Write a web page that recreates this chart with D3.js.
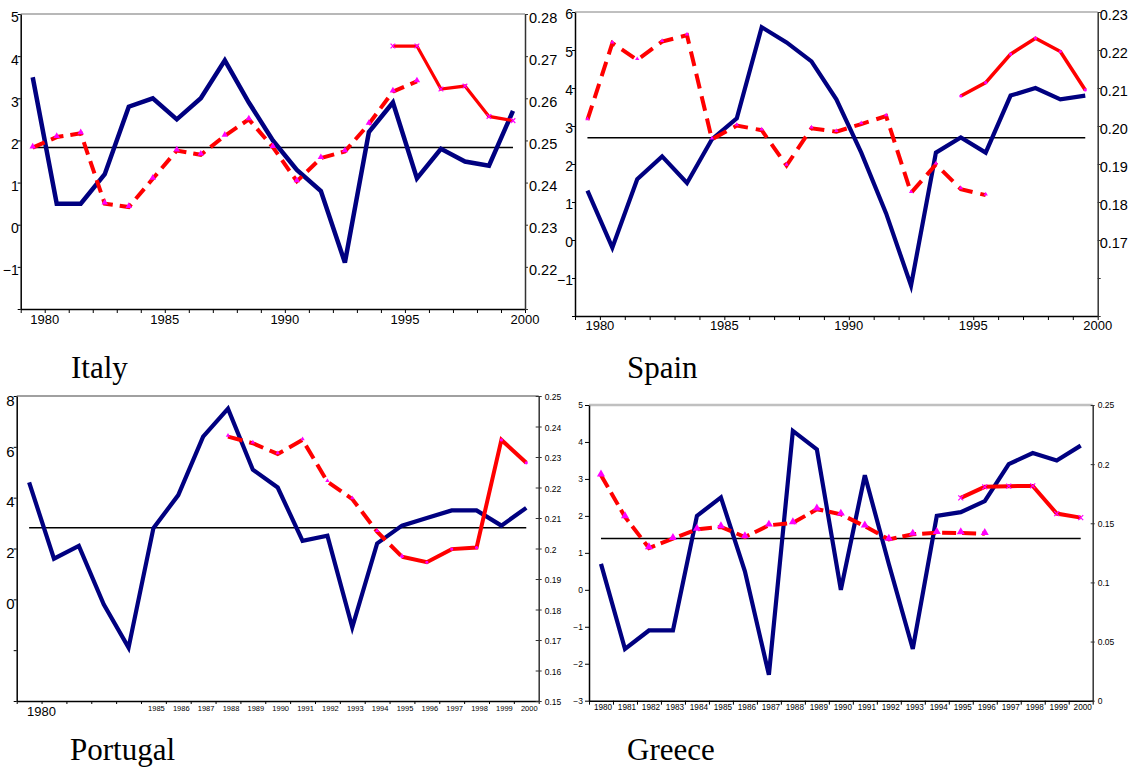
<!DOCTYPE html>
<html>
<head>
<meta charset="utf-8">
<style>
body { margin: 0; background: #fff; }
svg { display: block; }
.title { font-family: "Liberation Serif", "Times New Roman", serif; font-size: 31px; fill: #000; }
</style>
</head>
<body>
<svg width="1134" height="769"></svg>
<script src="https://cdn.jsdelivr.net/npm/d3@7"></script>
<script>
// categories
var years = [1980, 1981, 1982, 1983, 1984, 1985, 1986, 1987, 1988, 1989, 1990,
             1991, 1992, 1993, 1994, 1995, 1996, 1997, 1998, 1999, 2000];

// Italy
var italyGrowth   = [3.5, 0.5, 0.5, 1.2, 2.8, 3.0, 2.5, 3.0, 3.9, 2.9, 2.0, 1.3, 0.8, -0.9, 2.2, 2.9, 1.1, 1.8, 1.5, 1.4, 2.7];
var italyOldYears = [1980, 1981, 1982, 1983, 1984, 1985, 1986, 1987, 1988, 1989, 1990, 1991, 1992, 1993, 1994, 1995, 1996];
var italyOld      = [0.2483, 0.2508, 0.2517, 0.2350, 0.2342, 0.2409, 0.2476, 0.2466, 0.2511, 0.2550, 0.2484, 0.2403, 0.2458, 0.2474, 0.2539, 0.2616, 0.2640];
var italyNewYears = [1995, 1996, 1997, 1998, 1999, 2000];
var italyNew      = [0.2724, 0.2724, 0.2622, 0.2629, 0.2557, 0.2547];
var italyMean     = 1.83;

// Spain
var spainGrowth   = [1.3, -0.2, 1.6, 2.2, 1.5, 2.65, 3.2, 5.6, 5.2, 4.7, 3.7, 2.3, 0.7, -1.2, 2.3, 2.7, 2.3, 3.8, 4.0, 3.7, 3.8];
var spainOldYears = [1980, 1981, 1982, 1983, 1984, 1985, 1986, 1987, 1988, 1989, 1990, 1991, 1992, 1993, 1994, 1995, 1996];
var spainOld      = [0.2016, 0.2218, 0.2174, 0.2222, 0.2239, 0.1965, 0.2001, 0.1989, 0.1896, 0.1994, 0.1985, 0.2005, 0.2026, 0.1824, 0.1899, 0.1834, 0.1818];
var spainNewYears = [1995, 1996, 1997, 1998, 1999, 2000];
var spainNew      = [0.2079, 0.2114, 0.2189, 0.2231, 0.2196, 0.2095];
var spainMean     = 2.69;

// Portugal
var portugalGrowth   = [4.6, 1.6, 2.1, -0.2, -1.9, 2.8, 4.1, 6.4, 7.5, 5.1, 4.4, 2.3, 2.5, -1.1, 2.2, 2.9, 3.2, 3.5, 3.5, 2.9, 3.6];
var portugalOldYears = [1988, 1989, 1990, 1991, 1992, 1993, 1994, 1995];
var portugalOld      = [0.2367, 0.2345, 0.2310, 0.2356, 0.2219, 0.2162, 0.2055, 0.1973];
var portugalNewYears = [1995, 1996, 1997, 1998, 1999, 2000];
var portugalNew      = [0.1973, 0.1955, 0.1998, 0.2003, 0.2356, 0.2281];
var portugalMean     = 2.82;

// Greece
var greeceGrowth   = [0.7, -1.6, -1.1, -1.1, 2.0, 2.5, 0.5, -2.3, 4.3, 3.8, 0.0, 3.1, 0.7, -1.6, 2.0, 2.1, 2.4, 3.4, 3.7, 3.5, 3.9];
var greeceOldYears = [1980, 1981, 1982, 1983, 1984, 1985, 1986, 1987, 1988, 1989, 1990, 1991, 1992, 1993, 1994, 1995, 1996];
var greeceOld      = [0.1907, 0.1554, 0.1291, 0.1370, 0.1449, 0.1469, 0.1384, 0.1483, 0.1503, 0.1619, 0.1576, 0.1475, 0.1364, 0.1407, 0.1421, 0.1418, 0.1412];
var greeceNewYears = [1995, 1996, 1997, 1998, 1999, 2000];
var greeceNew      = [0.1715, 0.1808, 0.1814, 0.1816, 0.1582, 0.1548];
var greeceMean     = 1.39;

// tick values and labels
var italyLeftTicks   = [-2, -1, 0, 1, 2, 3, 4, 5];
var italyLeftLabels  = [-1, 0, 1, 2, 3, 4, 5];
var italyRightTicks  = [0.21, 0.22, 0.23, 0.24, 0.25, 0.26, 0.27, 0.28];
var italyRightLabels = [0.22, 0.23, 0.24, 0.25, 0.26, 0.27, 0.28];
var spainLeftTicks   = [-2, -1, 0, 1, 2, 3, 4, 5, 6];
var spainLeftLabels  = [-1, 0, 1, 2, 3, 4, 5, 6];
var spainRightTicks  = [0.15, 0.16, 0.17, 0.18, 0.19, 0.20, 0.21, 0.22, 0.23];
var spainRightLabels = [0.17, 0.18, 0.19, 0.20, 0.21, 0.22, 0.23];
var fiveYearLabels   = [1980, 1985, 1990, 1995, 2000];
var portugalLeftTicks   = [-4, -2, 0, 2, 4, 6, 8];
var portugalLeftLabels  = [0, 2, 4, 6, 8];
var portugalRightTicks  = [0.15, 0.16, 0.17, 0.18, 0.19, 0.2, 0.21, 0.22, 0.23, 0.24, 0.25];
var portugalBigYears    = [1980];
var portugalSmallYears  = [1985, 1986, 1987, 1988, 1989, 1990, 1991, 1992, 1993, 1994, 1995, 1996, 1997, 1998, 1999, 2000];
var greeceLeftTicks  = [-3, -2, -1, 0, 1, 2, 3, 4, 5];
var greeceRightTicks = [0, 0.05, 0.1, 0.15, 0.2, 0.25];

var svg = d3.select("svg");
var NAVY = "#000080", RED = "#ff0000", MAGENTA = "#ff00ff";
var sans = "'Liberation Sans', Arial, sans-serif";

function zip(ys, vs) {
  return ys.map(function(y, i) { return {year: y, v: vs[i]}; });
}

function drawPanel(p) {
  var g = svg.append("g");
  var x = d3.scaleBand().domain(years).range([p.left, p.right]);
  var xb = d3.scaleLinear().domain([0, years.length]).range([p.left, p.right]);
  var yL = d3.scaleLinear().domain(p.leftDomain).range([p.bottom, p.top]);
  var yR = d3.scaleLinear().domain(p.rightDomain).range([p.bottom, p.top]);
  var mid = function(yr) { return x(yr) + x.bandwidth() / 2; };

  // thin frame line across the top
  g.append("line")
      .attr("x1", p.left).attr("x2", p.right)
      .attr("y1", p.top).attr("y2", p.top)
      .attr("stroke", p.frameColor).attr("stroke-width", p.frameWidth);

  // x axis, ticks on category boundaries
  var gx = g.append("g")
      .attr("transform", "translate(0," + p.bottom + ")")
      .call(d3.axisBottom(xb)
        .tickValues(d3.range(0, years.length + 1))
        .tickSize(p.xTick).tickSizeOuter(0).tickFormat(""));
  gx.select(".domain").attr("stroke", "#000").attr("stroke-width", 1.5);
  gx.selectAll(".tick line").attr("stroke", "#000");

  p.xLabels.forEach(function(l) {
    g.append("g").selectAll("text")
      .data(l.values)
      .enter().append("text")
        .attr("x", function(d) { return (l.at === "edge" ? x(d) + x.bandwidth() : mid(d)) + (l.dx || 0); })
        .attr("y", p.bottom + l.dy)
        .attr("text-anchor", "middle")
        .attr("font-family", sans)
        .attr("font-size", l.size)
        .attr("fill", "#000")
        .text(function(d) { return d; });
  });

  // left axis
  var gl = g.append("g")
      .attr("transform", "translate(" + p.left + ",0)")
      .call(d3.axisLeft(yL)
        .tickValues(p.leftTicks)
        .tickSize(p.lTick).tickSizeOuter(0)
        .tickPadding(p.lPad)
        .tickFormat(function(v) { return p.leftLabels.indexOf(v) >= 0 ? d3.format("~g")(v) : ""; }));
  gl.attr("font-family", sans).attr("font-size", p.lSize);
  gl.select(".domain").attr("stroke", "#000").attr("stroke-width", 1.5);
  gl.selectAll(".tick line").attr("stroke", "#000");
  gl.selectAll(".tick text").attr("fill", "#000").attr("dy", 0.35 * p.lSize + p.lShift);

  // right axis
  var gr = g.append("g")
      .attr("transform", "translate(" + p.right + ",0)")
      .call(d3.axisRight(yR)
        .tickValues(p.rightTicks)
        .tickSize(p.rTick).tickSizeOuter(0)
        .tickPadding(p.rPad)
        .tickFormat(function(v) { return p.rightLabels.indexOf(v) >= 0 ? p.rightFmt(v) : ""; }));
  gr.attr("font-family", sans).attr("font-size", p.rSize);
  gr.select(".domain").attr("stroke", "#333").attr("stroke-width", 1.5);
  gr.selectAll(".tick line").attr("stroke", "#333").attr("x1", -p.rCross);
  gr.selectAll(".tick text").attr("fill", "#000").attr("dy", 0.35 * p.rSize + p.rShift);

  // average line
  g.append("line")
      .attr("x1", mid(years[0])).attr("x2", mid(years[years.length - 1]))
      .attr("y1", yL(p.mean)).attr("y2", yL(p.mean))
      .attr("stroke", "#000").attr("stroke-width", 1.5);

  var lineL = d3.line().x(function(d) { return mid(d.year); }).y(function(d) { return yL(d.v); });
  var lineR = d3.line().x(function(d) { return mid(d.year); }).y(function(d) { return yR(d.v); });

  var oldData = zip(p.oldYears, p.oldValues);
  var newData = zip(p.newYears, p.newValues);

  g.append("path")
      .datum(zip(years, p.growth))
      .attr("d", lineL)
      .attr("fill", "none").attr("stroke", NAVY)
      .attr("stroke-width", p.blueWidth).attr("stroke-linejoin", "miter");

  g.append("path")
      .datum(oldData)
      .attr("d", lineR)
      .attr("fill", "none").attr("stroke", RED)
      .attr("stroke-width", 4).attr("stroke-dasharray", p.dash);

  g.append("path")
      .datum(newData)
      .attr("d", lineR)
      .attr("fill", "none").attr("stroke", RED)
      .attr("stroke-width", p.redWidth);

  // markers
  g.append("g").selectAll("path")
    .data(oldData)
    .enter().append("path")
      .attr("transform", function(d) { return "translate(" + mid(d.year) + "," + (yR(d.v) - 1) + ")"; })
      .attr("d", d3.symbol().type(d3.symbolTriangle).size(p.triSize))
      .attr("fill", MAGENTA);

  g.append("g").selectAll("path")
    .data(newData)
    .enter().append("path")
      .attr("transform", function(d) { return "translate(" + mid(d.year) + "," + yR(d.v) + ")"; })
      .attr("d", d3.symbol().type(p.newMark === "x" ? d3.symbolTimes : d3.symbolCircle).size(p.newSize))
      .attr("fill", p.newMark === "x" ? "none" : MAGENTA)
      .attr("stroke", p.newMark === "x" ? MAGENTA : "none")
      .attr("stroke-width", 1.2);

  svg.append("text")
      .attr("class", "title")
      .attr("x", p.titleX).attr("y", p.titleY)
      .text(p.title);
}

drawPanel({
  title: "Italy", titleX: 71, titleY: 378,
  left: 20.7, right: 525, top: 14, bottom: 309,
  leftDomain: [-2, 5], rightDomain: [0.21, 0.28],
  leftTicks: italyLeftTicks, leftLabels: italyLeftLabels,
  rightTicks: italyRightTicks, rightLabels: italyRightLabels, rightFmt: d3.format(".2f"),
  lTick: 3, lPad: -1, lSize: 14, lShift: 3,
  rTick: 3, rCross: 0, rPad: 1, rSize: 14.5, rShift: 3,
  xTick: 4, xLabels: [{values: fiveYearLabels, at: "edge", size: 13, dy: 15}],
  frameColor: "#a0a0a0", frameWidth: 1.5,
  growth: italyGrowth, oldYears: italyOldYears, oldValues: italyOld,
  newYears: italyNewYears, newValues: italyNew, mean: italyMean,
  blueWidth: 4.5, redWidth: 3.2, dash: "13,7",
  triSize: 18, newMark: "x", newSize: 16
});

drawPanel({
  title: "Spain", titleX: 627, titleY: 378,
  left: 575, right: 1097.7, top: 12, bottom: 316,
  leftDomain: [-2, 6], rightDomain: [0.15, 0.23],
  leftTicks: spainLeftTicks, leftLabels: spainLeftLabels,
  rightTicks: spainRightTicks, rightLabels: spainRightLabels, rightFmt: d3.format(".2f"),
  lTick: 3, lPad: -1, lSize: 14, lShift: 2,
  rTick: 3, rCross: 0, rPad: -1, rSize: 14.5, rShift: 2,
  xTick: 4, xLabels: [{values: fiveYearLabels, at: "edge", size: 13, dy: 14}],
  frameColor: "#808080", frameWidth: 1,
  growth: spainGrowth, oldYears: spainOldYears, oldValues: spainOld,
  newYears: spainNewYears, newValues: spainNew, mean: spainMean,
  blueWidth: 4.2, redWidth: 3.6, dash: "15,8",
  triSize: 8, newMark: "dot", newSize: 8
});

drawPanel({
  title: "Portugal", titleX: 70, titleY: 760,
  left: 16.7, right: 538.7, top: 396, bottom: 701,
  leftDomain: [-4, 8], rightDomain: [0.15, 0.25],
  leftTicks: portugalLeftTicks, leftLabels: portugalLeftLabels,
  rightTicks: portugalRightTicks, rightLabels: portugalRightTicks, rightFmt: d3.format("~g"),
  lTick: 3, lPad: -1, lSize: 15, lShift: 4,
  rTick: 3, rCross: 3, rPad: 3, rSize: 8.5, rShift: 1,
  xTick: 3,
  xLabels: [{values: portugalBigYears, at: "edge", size: 13, dy: 15},
            {values: portugalSmallYears, at: "mid", dx: 3, size: 7.5, dy: 10}],
  frameColor: "#808080", frameWidth: 1.5,
  growth: portugalGrowth, oldYears: portugalOldYears, oldValues: portugalOld,
  newYears: portugalNewYears, newValues: portugalNew, mean: portugalMean,
  blueWidth: 4.2, redWidth: 4, dash: "15,7",
  triSize: 8, newMark: "dot", newSize: 8
});

drawPanel({
  title: "Greece", titleX: 627, titleY: 760,
  left: 589, right: 1092.7, top: 405, bottom: 700.7,
  leftDomain: [-3, 5], rightDomain: [0, 0.25],
  leftTicks: greeceLeftTicks, leftLabels: greeceLeftTicks,
  rightTicks: greeceRightTicks, rightLabels: greeceRightTicks, rightFmt: d3.format("~g"),
  lTick: 4, lPad: 2, lSize: 8.5, lShift: 0,
  rTick: 2, rCross: 2, rPad: 3, rSize: 8.5, rShift: 0,
  xTick: 4, xLabels: [{values: years, at: "mid", dx: 2, size: 8.2, dy: 9}],
  frameColor: "#c0c0c0", frameWidth: 2.5,
  growth: greeceGrowth, oldYears: greeceOldYears, oldValues: greeceOld,
  newYears: greeceNewYears, newValues: greeceNew, mean: greeceMean,
  blueWidth: 4.2, redWidth: 4, dash: "14,6",
  triSize: 28, newMark: "x", newSize: 18
});
</script>
</body>
</html>
